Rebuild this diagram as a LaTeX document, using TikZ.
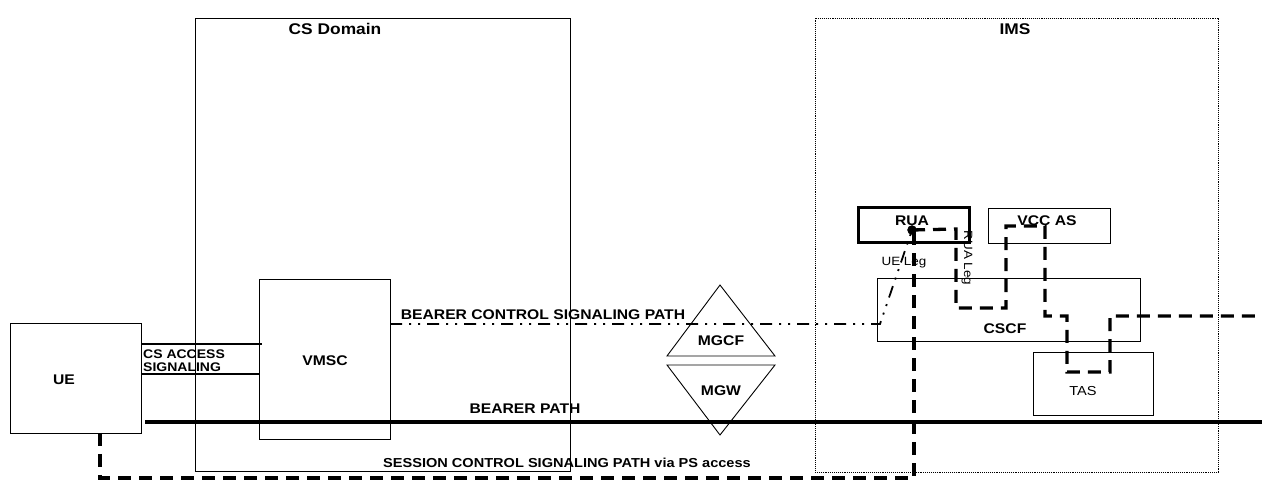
\documentclass[tikz,border=0pt]{standalone}
\usepackage{fontspec}
\setmainfont{Liberation Sans}[FakeStretch=1.12]
\begin{document}
\begin{tikzpicture}[x=1pt,y=-1pt,
  box/.style={draw, line width=0.9pt, inner sep=0, outer sep=0},
  thickbox/.style={draw, line width=3pt, inner sep=0, outer sep=0},
  lbl/.style={inner sep=0, font=\bfseries\fontsize{14}{16}\selectfont},
  biglbl/.style={inner sep=0, font=\bfseries\fontsize{15.5}{17}\selectfont},
  smlbl/.style={inner sep=0, font=\fontsize{12}{13}\selectfont},
  sess/.style={line width=3.3pt, dash pattern=on 13pt off 8pt},
  bctl/.style={line width=1.8pt, dash pattern=on 12pt off 7pt on 2pt off 7pt on 2pt off 7pt},
  plain/.style={line width=1.3pt},
  blob/.style={circle, fill=black, draw=black, inner sep=0, minimum size=9pt}]
\useasboundingbox (0,0) rectangle (1262,502);

% domains
\node[box, minimum width=375pt, minimum height=453pt] (csd) at (382.5,244.5) {};
\node[biglbl] (csdl) at (335,29) {CS Domain};
\node[box, densely dotted, line width=0.8pt, minimum width=403pt, minimum height=454pt] (ims) at (1016.5,245) {};
\node[biglbl] (imsl) at (1015,29) {IMS};

% CS side
\node[box, minimum width=131pt, minimum height=110pt] (ue) at (75.5,378) {};
\node[lbl] (uel) at (64,380) {UE};
\node[box, minimum width=131pt, minimum height=160pt] (vmsc) at (324.5,359) {};
\node[lbl] (vmscl) at (325,361) {VMSC};

% MGCF / MGW
\coordinate (mgcftop) at (720,285);
\coordinate (mgcfl) at (667,356);
\coordinate (mgcfr) at (775,356);
\draw[line width=0.9pt] (mgcftop) -- (mgcfr) -- (mgcfl) -- cycle;
\node[lbl] (mgcfl2) at (721,341) {MGCF};
\coordinate (mgwbot) at (720,435);
\coordinate (mgwl) at (667,365);
\coordinate (mgwr) at (775,365);
\draw[line width=0.9pt] (mgwbot) -- (mgwr) -- (mgwl) -- cycle;
\node[lbl] (mgwl2) at (721,391) {MGW};

% IMS side
\node[thickbox, minimum width=111pt, minimum height=35pt] (rua) at (913.5,225.5) {};
\node[lbl] (rual) at (912,221) {RUA};
\node[box, minimum width=122pt, minimum height=35pt] (vcc) at (1049,225.5) {};
\node[lbl] (vccl) at (1047,221) {VCC AS};
\node[box, minimum width=263pt, minimum height=63pt] (cscf) at (1008.5,309.5) {};
\node[lbl] (cscfl) at (1005,329) {CSCF};
\node[box, minimum width=120pt, minimum height=63pt] (tas) at (1093,383.5) {};
\node[inner sep=0, font=\fontsize{13}{14}\selectfont] (tasl) at (1083,391) {TAS};

\coordinate (dotc) at (912,230);

% CS access signaling
\coordinate (csa1) at (262,344);
\coordinate (csa2) at (259,374);
\draw[plain] (ue.east |- csa1) -- (csa1);
\draw[plain] (ue.east |- csa2) -- (csa2);
\node[anchor=west, align=left, inner sep=0, font=\bfseries\fontsize{12.5}{13}\selectfont] (csal) at (143,361) {CS ACCESS\\SIGNALING};

% bearer path
\coordinate (bpstart) at (145,422);
\coordinate (bpend) at (1262,422);
\draw[line width=4pt] (bpstart) -- (bpend);
\node[lbl] (bpl) at (525,409) {BEARER PATH};

% bearer control signaling path
\coordinate (bccorner) at (880,324);
\draw[bctl] (vmsc.east |- bccorner) -- (bccorner) -- (dotc);
\node[lbl] (bcl) at (543,315) {BEARER CONTROL SIGNALING PATH};

% session control signaling path via PS access
\coordinate (s1) at (100,478);
\coordinate (s2) at (914,478);
\coordinate (s3) at (914,230);
\draw[sess] (ue.south -| s1) -- (s1) -- (s2) -- (s3);
\node[inner sep=0, font=\bfseries\fontsize{13}{14}\selectfont] (sl) at (567,463) {SESSION CONTROL SIGNALING PATH via PS access};

% RUA leg path
\coordinate (r1) at (956,229);
\coordinate (r2) at (956,308);
\coordinate (r3) at (1006,308);
\coordinate (r4) at (1006,226);
\coordinate (r5) at (1045,226);
\coordinate (r6) at (1045,316);
\coordinate (r7) at (1067,316);
\coordinate (r8) at (1067,372);
\coordinate (r9) at (1110,372);
\coordinate (r10) at (1110,316);
\coordinate (r11) at (1262,316);
\draw[sess] (dotc) -- (r1) -- (r2) -- (r3) -- (r4) -- (r5) -- (r6) -- (r7) -- (r8) -- (r9) -- (r10) -- (r11);

\node[blob] (dot) at (dotc) {};

\node[smlbl] (uelegl) at (904,263) {UE Leg};
\node[smlbl, rotate=-90] (ruelegl) at (967,258) {RUA Leg};
\end{tikzpicture}
\end{document}
